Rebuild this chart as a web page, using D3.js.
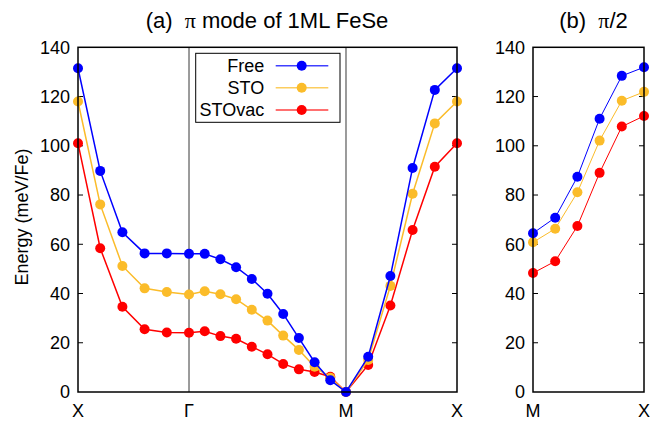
<!DOCTYPE html>
<html>
<head>
<meta charset="utf-8">
<script src="https://cdn.jsdelivr.net/npm/d3@7"></script>
<style>
  html, body { margin: 0; padding: 0; background: #fff; }
  svg { display: block; }
  text { font-family: "Liberation Sans", Arial, sans-serif; fill: #000; }
</style>
</head>
<body>
<svg id="chart" width="651" height="422"></svg>
<script>
// ---------- data ----------
const seriesNames = ["Free", "STO", "STOvac"];
const seriesColors = ["#0000ff", "#fbbc2a", "#ff0000"];

// Panel (a): path X -> Gamma -> M -> X (5 + 10 + 5 intervals)
const pathLabels = ["X", "\u0393", "M", "X"];
const segLengths = [1, Math.SQRT2, 1];
const segSteps = [5, 10, 5];

const freeA = [131.5, 89.8, 64.9, 56.3, 56.3, 56.1,
               56.1, 53.9, 50.7, 45.9, 39.9, 31.7, 21.9, 12.1, 4.8, 0,
               14.3, 47.1, 91.0, 122.7, 131.5];
const stoA = [118.0, 76.2, 51.2, 42.1, 40.6, 39.6,
              40.9, 39.7, 37.7, 33.4, 29.0, 22.9, 17.1, 10.3, 5.8, 0,
              13.0, 43.1, 80.5, 109.1, 118.0];
const stovacA = [101.0, 58.4, 34.6, 25.5, 24.2, 24.1,
                 24.7, 22.7, 21.6, 18.4, 15.3, 11.4, 9.2, 8.1, 6.2, 0,
                 11.0, 35.1, 65.8, 91.5, 101.0];

// Panel (b): M -> X
const pathLabelsB = ["M", "X"];
const freeB = [64.5, 70.8, 87.4, 111.0, 128.4, 131.9];
const stoB = [60.8, 66.3, 81.1, 102.1, 118.3, 121.9];
const stovacB = [48.3, 53.1, 67.4, 89.0, 107.8, 112.1];

const yTicks = [0, 20, 40, 60, 80, 100, 120, 140];

// ---------- build k-path ----------
const kA = [0];
const nodePos = [0];
{
  let acc = 0;
  segLengths.forEach((L, i) => {
    for (let s = 1; s <= segSteps[i]; s++) kA.push(acc + L * s / segSteps[i]);
    acc += L;
    nodePos.push(acc);
  });
}
const kB = freeB.map((d, i) => i);

// ---------- layout ----------
const svg = d3.select("#chart");
const plotTop = 47.3, plotBottom = 392;
const axL = 78, axR = 457;
const bxL = 533, bxR = 644;

const y = d3.scaleLinear().domain([0, 140]).range([plotBottom, plotTop]);
const xA = d3.scaleLinear().domain([0, d3.sum(segLengths)]).range([axL, axR]);
const xB = d3.scaleLinear().domain([0, kB.length - 1]).range([bxL, bxR]);

function drawPanel(x, nodeXs, nodeLabels) {
  const g = svg.append("g");
  nodeXs.slice(1, -1).forEach(v => {
    g.append("line").attr("x1", x(v)).attr("x2", x(v))
      .attr("y1", plotTop).attr("y2", plotBottom)
      .attr("stroke", "#7a7a7a").attr("stroke-width", 1.5);
  });
  yTicks.forEach(t => {
    if (t === 0 || t === 140) return;
    g.append("line").attr("x1", x.range()[0]).attr("x2", x.range()[0] + 5)
      .attr("y1", y(t)).attr("y2", y(t)).attr("stroke", "#000").attr("stroke-width", 1);
    g.append("line").attr("x1", x.range()[1]).attr("x2", x.range()[1] - 5)
      .attr("y1", y(t)).attr("y2", y(t)).attr("stroke", "#000").attr("stroke-width", 1);
  });
  const yAxis = d3.axisLeft(y).tickValues(yTicks).tickSize(0).tickPadding(8);
  const ag = g.append("g").attr("transform", `translate(${x.range()[0]},0)`).call(yAxis);
  ag.select(".domain").remove();
  ag.selectAll("text").style("font-size", "18px")
    .style("font-family", "'Liberation Sans', Arial, sans-serif").attr("fill", "#000");
  nodeXs.forEach((v, i) => {
    g.append("text").attr("x", x(v)).attr("y", 417)
      .attr("text-anchor", "middle").style("font-size", "18px")
      .text(nodeLabels[i]);
  });
  return g;
}

function drawSeries(g, x, ks, seriesList, lw) {
  for (let si = seriesList.length - 1; si >= 0; si--) {
    const vals = seriesList[si];
    const color = seriesColors[si];
    const line = d3.line().x((d, i) => x(ks[i])).y(d => y(d));
    g.append("path").datum(vals).attr("d", line)
      .attr("fill", "none").attr("stroke", color).attr("stroke-width", lw);
    g.selectAll(null).data(vals).enter().append("circle")
      .attr("cx", (d, i) => x(ks[i])).attr("cy", d => y(d)).attr("r", 5)
      .attr("fill", color);
  }
}

// panel a
const gA = drawPanel(xA, nodePos, pathLabels);
drawSeries(gA, xA, kA, [freeA, stoA, stovacA], 1.5);

// legend
const lg = svg.append("g");
lg.append("rect").attr("x", 195.7).attr("y", 53.3).attr("width", 144.3).attr("height", 69)
  .attr("fill", "#fff").attr("stroke", "#000").attr("stroke-width", 1);
const rowY = [65.7, 87.8, 110];
seriesNames.forEach((n, i) => {
  lg.append("text").attr("x", 264.3).attr("y", rowY[i]).attr("dy", "0.36em")
    .attr("text-anchor", "end").style("font-size", "18px").text(n);
  lg.append("line").attr("x1", 275.7).attr("x2", 328.3).attr("y1", rowY[i]).attr("y2", rowY[i])
    .attr("stroke", seriesColors[i]).attr("stroke-width", 1.5).attr("stroke-opacity", 0.75);
  lg.append("circle").attr("cx", 301.7).attr("cy", rowY[i]).attr("r", 5).attr("fill", seriesColors[i]);
});

svg.append("rect").attr("x", axL).attr("y", plotTop).attr("width", axR - axL).attr("height", plotBottom - plotTop)
  .attr("fill", "none").attr("stroke", "#000").attr("stroke-width", 1.5);

// panel b
const gB = drawPanel(xB, [0, kB.length - 1], pathLabelsB);
drawSeries(gB, xB, kB, [freeB, stoB, stovacB], 1);
svg.append("rect").attr("x", bxL).attr("y", plotTop).attr("width", bxR - bxL).attr("height", plotBottom - plotTop)
  .attr("fill", "none").attr("stroke", "#000").attr("stroke-width", 1.5);

// titles
const tA = svg.append("text").attr("x", 267).attr("y", 28)
  .attr("text-anchor", "middle").style("font-size", "22px");
tA.append("tspan").text("(a)\u00a0\u00a0");
tA.append("tspan").style("font-family", "'Liberation Serif', serif").text("\u03c0");
tA.append("tspan").text("\u00a0mode of 1ML FeSe");

const tB = svg.append("text").attr("x", 593.5).attr("y", 28)
  .attr("text-anchor", "middle").style("font-size", "22px");
tB.append("tspan").text("(b)\u00a0\u00a0");
tB.append("tspan").style("font-family", "'Liberation Serif', serif").text("\u03c0");
tB.append("tspan").text("/2");

svg.append("text").attr("transform", "translate(22,217) rotate(-90)")
  .attr("text-anchor", "middle").attr("dy", "0.35em").style("font-size", "18px")
  .text("Energy (meV/Fe)");
</script>
</body>
</html>
